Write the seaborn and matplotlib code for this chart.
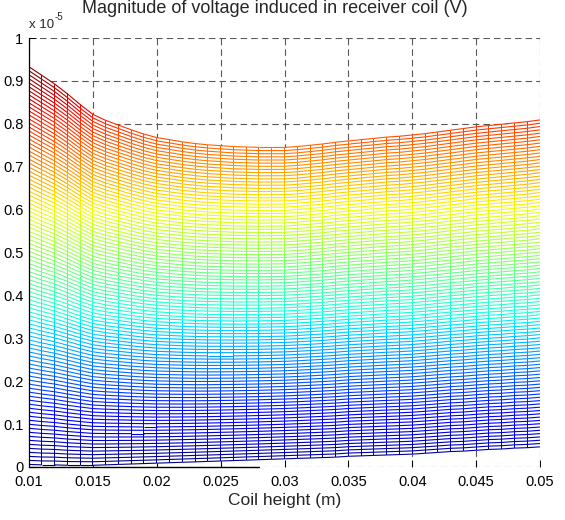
import numpy as np
import matplotlib
matplotlib.use("Agg")
import matplotlib.pyplot as plt
import seaborn as sns
from matplotlib.collections import LineCollection, PolyCollection
from matplotlib.colors import Normalize

# ---------------- data (values in units of 1e-5 V) ----------------
coil_height = [0.010, 0.011, 0.012, 0.013, 0.014, 0.015, 0.016, 0.017, 0.018, 0.019,
               0.020, 0.021, 0.022, 0.023, 0.024, 0.025, 0.026, 0.027, 0.028, 0.029,
               0.030, 0.031, 0.032, 0.033, 0.034, 0.035, 0.036, 0.037, 0.038, 0.039,
               0.040, 0.041, 0.042, 0.043, 0.044, 0.045, 0.046, 0.047, 0.048, 0.049,
               0.050]
top_row = [0.933, 0.913, 0.893, 0.870, 0.845, 0.822, 0.808, 0.797, 0.786, 0.776,
           0.768, 0.763, 0.758, 0.754, 0.751, 0.749, 0.747, 0.746, 0.745, 0.745,
           0.745, 0.747, 0.750, 0.753, 0.757, 0.760, 0.763, 0.766, 0.769, 0.771,
           0.774, 0.777, 0.781, 0.785, 0.789, 0.793, 0.796, 0.799, 0.802, 0.805,
           0.809]
bottom_row = [0.006, 0.005, 0.005, 0.004, 0.004, 0.004, 0.005, 0.006, 0.007, 0.008,
              0.009, 0.010, 0.011, 0.012, 0.013, 0.014, 0.015, 0.016, 0.017, 0.018,
              0.019, 0.020, 0.021, 0.022, 0.023, 0.025, 0.026, 0.027, 0.028, 0.029,
              0.030, 0.032, 0.034, 0.036, 0.037, 0.039, 0.041, 0.042, 0.044, 0.045,
              0.047]
n_rows = 100
row_fraction = np.linspace(0.0, 1.0, n_rows)

x_ticks = [0.01, 0.015, 0.02, 0.025, 0.03, 0.035, 0.04, 0.045, 0.05]
x_tick_labels = ["0.01", "0.015", "0.02", "0.025", "0.03", "0.035", "0.04", "0.045", "0.05"]
y_ticks = [0, 0.1, 0.2, 0.3, 0.4, 0.5, 0.6, 0.7, 0.8, 0.9, 1.0]
y_tick_labels = ["0", "0.1", "0.2", "0.3", "0.4", "0.5", "0.6", "0.7", "0.8", "0.9", "1"]

title = "Magnitude of voltage induced in receiver coil (V)"
xlabel = "Coil height (m)"

# ---------------- mesh ----------------
x = np.asarray(coil_height)
top = np.asarray(top_row)
bot = np.asarray(bottom_row)
Z = bot[None, :] + row_fraction[:, None] * (top - bot)[None, :]

# ---------------- style ----------------
sns.set_style("white")
plt.rcParams["font.family"] = ["Liberation Sans", "DejaVu Sans"]
plt.rcParams["lines.scale_dashes"] = False

fig = plt.figure(figsize=(5.65, 5.2), dpi=100)
ax = fig.add_axes([29 / 565, 53 / 520, 511 / 565, 429 / 520])
ax.set_xlim(0.01, 0.05)
ax.set_ylim(0, 1)

cmap = matplotlib.colormaps["jet"]
norm = Normalize(vmin=float(Z.min()), vmax=float(Z.max()))

# row lines of the mesh, coloured segment by segment
row_segs, row_vals = [], []
for i in range(Z.shape[0]):
    for j in range(Z.shape[1] - 1):
        row_segs.append([(x[j], Z[i, j]), (x[j + 1], Z[i, j + 1])])
        row_vals.append(Z[i, j])

# column lines of the mesh, drawn as 1-pixel wide coloured strips
px_w = (0.05 - 0.01) / 511.0
px_h = 1.0 / 429.0
col_polys, col_vals = [], []
for j in range(Z.shape[1]):
    for i in range(Z.shape[0] - 1):
        y0, y1 = Z[i, j], Z[i + 1, j] + 0.3 * px_h
        xl, xr = x[j] - 0.5 * px_w, x[j] + 0.5 * px_w
        col_polys.append([(xl, y0), (xr, y0), (xr, y1), (xl, y1)])
        col_vals.append(Z[i, j])

ax.fill_between(x, bot, top, color="white", zorder=1, lw=0)
lc_rows = LineCollection(row_segs, cmap=cmap, norm=norm, linewidths=0.8, zorder=2)
lc_rows.set_array(np.asarray(row_vals))
ax.add_collection(lc_rows)
pc_cols = PolyCollection(col_polys, cmap=cmap, norm=norm, edgecolors="none",
                         linewidths=0, zorder=2.1)
pc_cols.set_array(np.asarray(col_vals))
ax.add_collection(pc_cols)

ax.set_xlim(0.01, 0.05)
ax.set_ylim(0, 1)
ax.set_xticks(x_ticks)
ax.set_xticklabels(x_tick_labels)
ax.set_yticks(y_ticks)
ax.set_yticklabels(y_tick_labels)

ax.set_axisbelow(True)
ax.grid(True, color="0.35", linestyle=(0, (4.7, 2.9)), linewidth=0.8)

for s in ["top", "right", "bottom"]:
    ax.spines[s].set_visible(False)
ax.spines["left"].set_color("black")
ax.spines["left"].set_linewidth(0.9)
ax.axhline(0, xmin=0, xmax=0.45, color="black", lw=1.0, zorder=3, clip_on=False)

ax.tick_params(direction="in", length=5, width=0.7, color="black",
               labelsize=10.5, labelcolor="black", top=False, right=False,
               bottom=True, left=True)
ax.tick_params(axis="x", pad=6)
ax.tick_params(axis="y", pad=4)

fig.text(275 / 565, 1 - 13 / 520, title, ha="center", va="baseline", fontsize=13)
fig.text(29 / 565, 1 - 28 / 520, "x 10", ha="left", va="baseline", fontsize=9.5)
fig.text(55 / 565, 1 - 20 / 520, "-5", ha="left", va="baseline", fontsize=7)
fig.text(284.5 / 565, 1 - 505 / 520, xlabel, ha="center", va="baseline", fontsize=12.5)

fig.savefig("out.png", dpi=100, facecolor="white")
